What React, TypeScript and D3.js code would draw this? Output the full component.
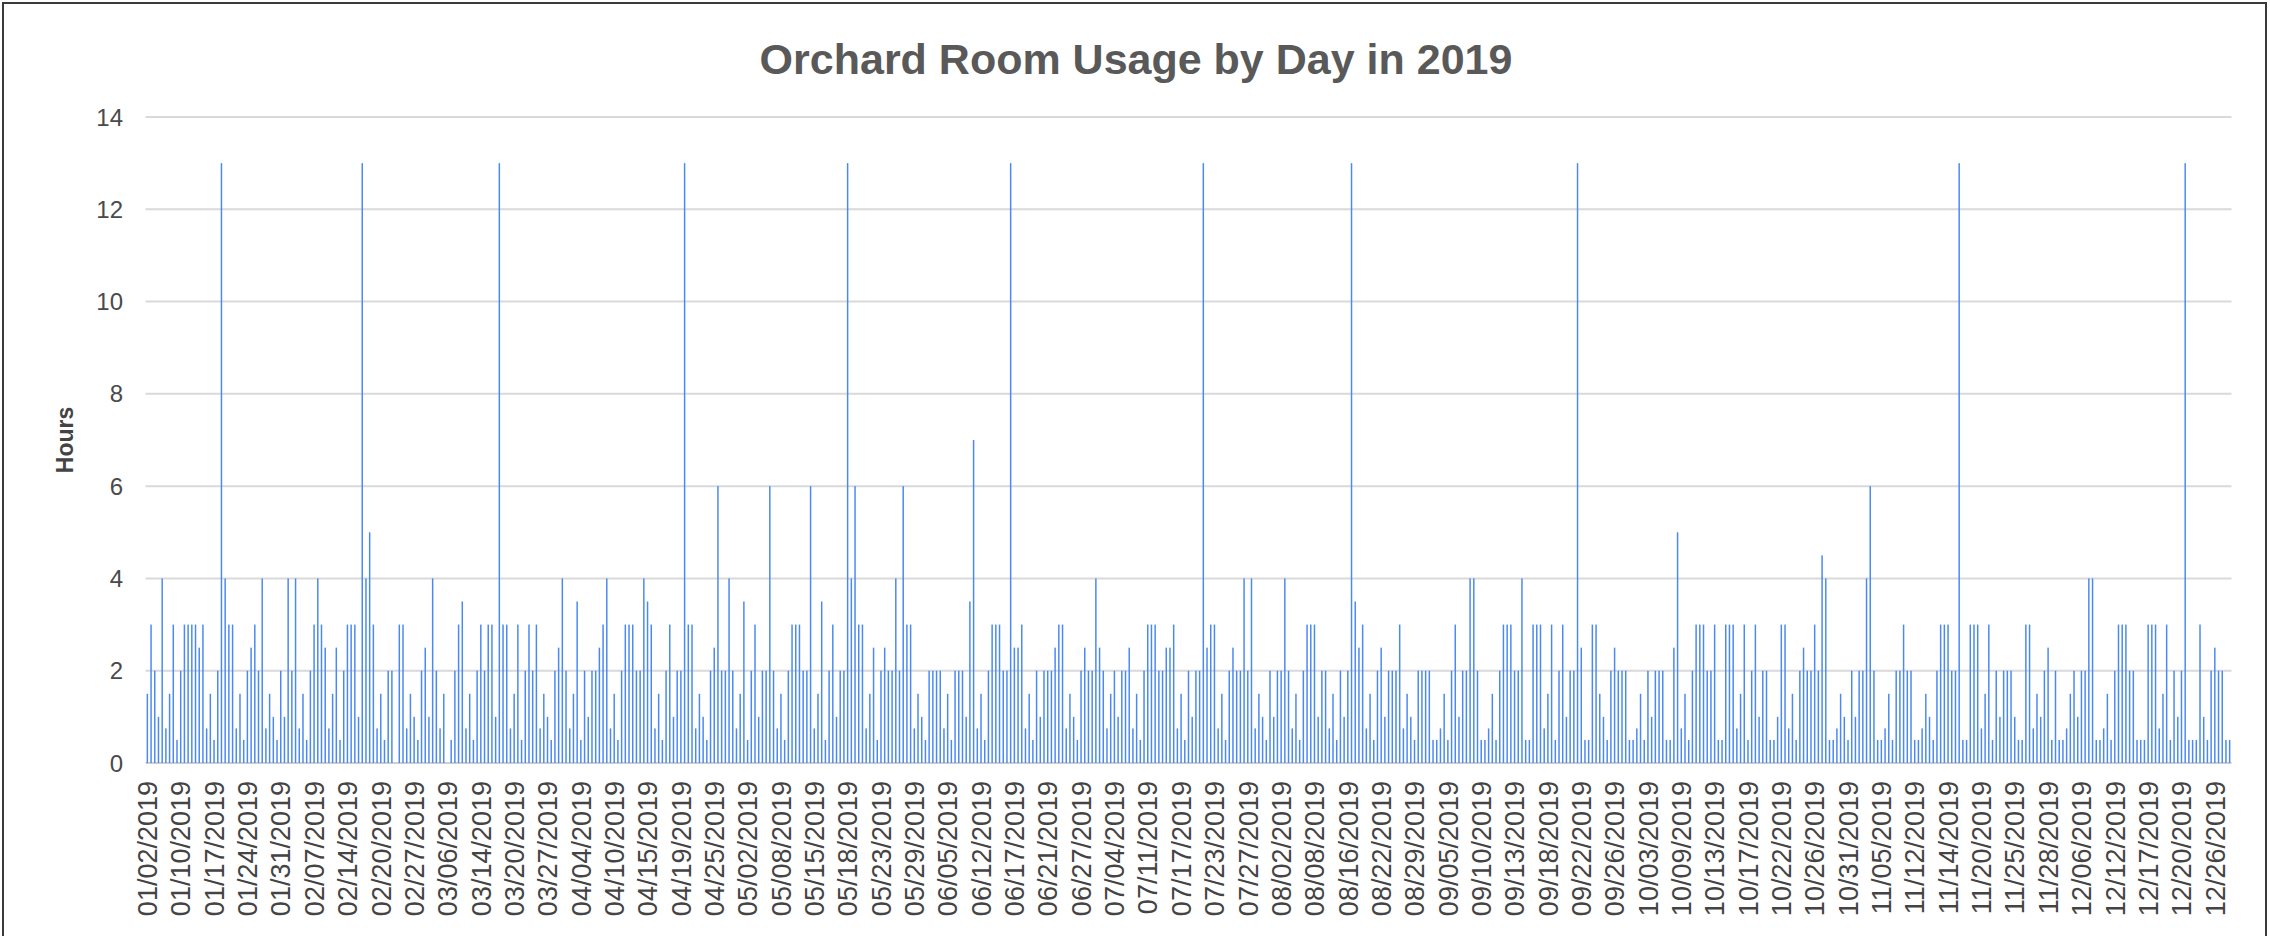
import React from 'react';
import * as d3 from 'd3';

// hours booked, one entry per booking row (the sheet has several rows per day)
const hours = [
  1.5, 3, 2, 1, 4, 0.75, 1.5, 3, 0.5, 2, 3, 3, 3, 3, 2.5, 3, 0.75, 1.5, 0.5, 2,
  13, 4, 3, 3, 0.75, 1.5, 0.5, 2, 2.5, 3, 2, 4, 0.75, 1.5, 1, 0.5, 2, 1, 4, 2,
  4, 0.75, 1.5, 0.5, 2, 3, 4,
  3, 2.5, 0.75, 1.5, 2.5, 0.5, 2, 3, 3, 3, 1, 13, 4, 5, 3, 0.75, 1.5, 0.5, 2, 2,
  0, 3, 3, 0.75, 1.5, 1, 0.5, 2, 2.5, 1, 4, 2, 0.75, 1.5, 0, 0.5, 2, 3, 3.5, 0.75,
  1.5, 0.5, 2, 3, 2, 3, 3,
  1, 13, 3, 3, 0.75, 1.5, 3, 0.5, 2, 3, 2, 3, 0.75, 1.5, 1, 0.5, 2, 2.5, 4, 2,
  0.75, 1.5, 3.5, 0.5, 2, 1, 2, 2, 2.5, 3, 4, 0.75, 1.5, 0.5, 2, 3, 3, 3, 2, 2,
  4, 3.5, 3, 0.75, 1.5, 0.5, 2, 3,
  1, 2, 2, 13, 3, 3, 0.75, 1.5, 1, 0.5, 2, 2.5, 6, 2, 2, 4, 2, 0.75, 1.5, 3.5,
  0.5, 2, 3, 1, 2, 2, 6, 2, 0.75, 1.5, 0.5, 2, 3, 3, 3, 2, 2, 6, 0.75, 1.5,
  3.5, 0.5, 2, 3, 1, 2, 2,
  13, 4, 6, 3, 3, 0.75, 1.5, 2.5, 0.5, 2, 2.5, 2, 2, 4, 2, 6, 3, 3, 0.75, 1.5,
  1, 0.5, 2, 2, 2, 2, 0.75, 1.5, 0.5, 2, 2, 2, 1, 3.5, 7, 0.75, 1.5, 0.5, 2, 3,
  3, 3, 2, 2, 13, 2.5, 2.5, 3,
  0.75, 1.5, 0.5, 2, 1, 2, 2, 2, 2.5, 3, 3, 0.75, 1.5, 1, 0.5, 2, 2.5, 2, 2, 4,
  2.5, 2, 0.75, 1.5, 2, 1, 2, 2, 2.5, 0.75, 1.5, 0.5, 2, 3, 3, 3, 2, 2, 2.5, 2.5,
  3, 0.75, 1.5, 0.5, 2, 1, 2,
  2, 13, 2.5, 3, 3, 0.75, 1.5, 0.5, 2, 2.5, 2, 2, 4, 2, 4, 0.75, 1.5, 1, 0.5, 2,
  1, 2, 2, 4, 2, 0.75, 1.5, 0.5, 2, 3, 3, 3, 1, 2, 2, 0.75, 1.5, 0.5, 2, 1,
  2, 13, 3.5, 2.5, 3, 0.75, 1.5, 0.5,
  2, 2.5, 1, 2, 2, 2, 3, 0.75, 1.5, 1, 0.5, 2, 2, 2, 2, 0.5, 0.5, 0.75, 1.5, 0.5,
  2, 3, 1, 2, 2, 4, 4, 2, 0.5, 0.5, 0.75, 1.5, 0.5, 2, 3, 3, 3, 2, 2, 4,
  0.5, 0.5, 3, 3, 3, 0.75, 1.5, 3,
  0.5, 2, 3, 1, 2, 2, 13, 2.5, 0.5, 0.5, 3, 3, 1.5, 1, 0.5, 2, 2.5, 2, 2, 2,
  0.5, 0.5, 0.75, 1.5, 0.5, 2, 1, 2, 2, 2, 0.5, 0.5, 2.5, 5, 0.75, 1.5, 0.5, 2, 3, 3,
  3, 2, 2, 3, 0.5, 0.5, 3,
  3, 3, 0.75, 1.5, 3, 0.5, 2, 3, 1, 2, 2, 0.5, 0.5, 1, 3, 3, 0.75, 1.5, 0.5, 2,
  2.5, 2, 2, 3, 2, 4.5, 4, 0.5, 0.5, 0.75, 1.5, 1, 0.5, 2, 1, 2, 2, 4, 6, 2,
  0.5, 0.5, 0.75, 1.5, 0.5, 2, 2,
  3, 2, 2, 0.5, 0.5, 0.75, 1.5, 1, 0.5, 2, 3, 3, 3, 2, 2, 13, 0.5, 0.5, 3, 3,
  3, 0.75, 1.5, 3, 0.5, 2, 1, 2, 2, 2, 1, 0.5, 0.5, 3, 3, 0.75, 1.5, 1, 2, 2.5,
  0.5, 2, 0.5, 0.5, 0.75, 1.5, 2, 1,
  2, 2, 4, 4, 0.5, 0.5, 0.75, 1.5, 0.5, 2, 3, 3, 3, 2, 2, 0.5, 0.5, 0.5, 3, 3,
  3, 0.75, 1.5, 3, 0.5, 2, 1, 2, 13, 0.5, 0.5, 0.5, 3, 1, 0.5, 2, 2.5, 2, 2, 0.5,
  0.5,
];

// every 9th row gets a date label
const tickLabels = [
  '01/02/2019', '01/10/2019', '01/17/2019', '01/24/2019', '01/31/2019', '02/07/2019',
  '02/14/2019', '02/20/2019', '02/27/2019', '03/06/2019', '03/14/2019', '03/20/2019',
  '03/27/2019', '04/04/2019', '04/10/2019', '04/15/2019', '04/19/2019', '04/25/2019',
  '05/02/2019', '05/08/2019', '05/15/2019', '05/18/2019', '05/23/2019', '05/29/2019',
  '06/05/2019', '06/12/2019', '06/17/2019', '06/21/2019', '06/27/2019', '07/04/2019',
  '07/11/2019', '07/17/2019', '07/23/2019', '07/27/2019', '08/02/2019', '08/08/2019',
  '08/16/2019', '08/22/2019', '08/29/2019', '09/05/2019', '09/10/2019', '09/13/2019',
  '09/18/2019', '09/22/2019', '09/26/2019', '10/03/2019', '10/09/2019', '10/13/2019',
  '10/17/2019', '10/22/2019', '10/26/2019', '10/31/2019', '11/05/2019', '11/12/2019',
  '11/14/2019', '11/20/2019', '11/25/2019', '11/28/2019', '12/06/2019', '12/12/2019',
  '12/17/2019', '12/20/2019', '12/26/2019',
];
const labelEvery = 9;

const yTicks = [0, 2, 4, 6, 8, 10, 12, 14];

const W = 2270;
const H = 936;
const plot = { left: 145.5, right: 2231.5, top: 117, bottom: 763 };
const font = '"Liberation Sans", Arial, sans-serif';

const App = () => {
  const x = d3
    .scaleBand<number>()
    .domain(d3.range(hours.length))
    .range([plot.left, plot.right])
    .paddingInner(0.6)
    .paddingOuter(0.3);
  const y = d3.scaleLinear().domain([0, 14]).range([plot.bottom, plot.top]);

  return (
    <>
      <style>{'body{margin:0}'}</style>
      <svg width={W} height={H} style={{ display: 'block', background: '#fff' }}>
        <rect x={3} y={3} width={2263} height={1000} fill="#fff" stroke="#3a3a3a" strokeWidth={2} />

        <text
          x={1136}
          y={74}
          textAnchor="middle"
          fontFamily={font}
          fontWeight="bold"
          fontSize={43}
          fill="#595959"
        >
          Orchard Room Usage by Day in 2019
        </text>

        {yTicks.map((t) => (
          <g key={t}>
            <line
              x1={plot.left}
              x2={plot.right}
              y1={y(t)}
              y2={y(t)}
              stroke={t === 0 ? '#cfcfcf' : '#d9d9d9'}
              strokeWidth={2}
            />
            <text
              x={123}
              y={y(t)}
              dy="0.36em"
              textAnchor="end"
              fontFamily={font}
              fontSize={24}
              fill="#4a4a4a"
            >
              {t}
            </text>
          </g>
        ))}

        <text
          transform={`translate(73,${(plot.top + plot.bottom) / 2}) rotate(-90)`}
          textAnchor="middle"
          fontFamily={font}
          fontWeight="bold"
          fontSize={23}
          fill="#444"
        >
          Hours
        </text>

        <g>
          {hours.map((v, i) => (
            <rect
              key={i}
              x={x(i)}
              y={y(v)}
              width={x.bandwidth()}
              height={y(0) - y(v)}
              fill="#4a89f3"
            />
          ))}
        </g>

        {tickLabels.map((lab, k) => {
          const i = k * labelEvery;
          const cx = (x(i) as number) + x.bandwidth() / 2;
          return (
            <text
              key={lab}
              transform={`translate(${cx},${781}) rotate(-90)`}
              dy="0.36em"
              textAnchor="end"
              fontFamily={font}
              fontSize={27}
              fill="#444"
            >
              {lab}
            </text>
          );
        })}
      </svg>
    </>
  );
};

export default App;
